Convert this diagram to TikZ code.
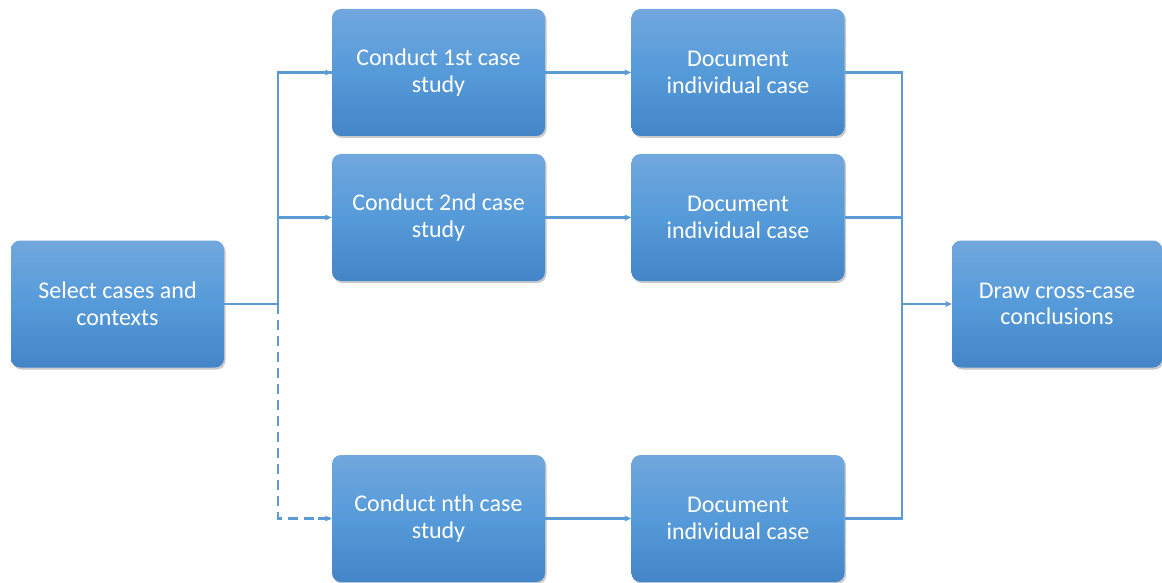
\documentclass[tikz,border=0pt]{standalone}
\usepackage{fontspec}
\setmainfont{Carlito}
\usetikzlibrary{arrows.meta,shadows}
\definecolor{boxtop}{HTML}{71A7DD}
\definecolor{boxmid}{HTML}{559AD9}
\definecolor{boxbot}{HTML}{4485C8}
\definecolor{linkblue}{HTML}{5B9BD5}
\tikzset{
  stage/.style={rounded corners=9pt, minimum width=213pt, minimum height=127pt,
    top color=boxtop, bottom color=boxbot, middle color=boxmid,
    text=white, align=center, font=\fontsize{24}{26.5}\selectfont, inner sep=0pt,
    drop shadow={shadow xshift=1.5pt, shadow yshift=-2pt, opacity=0.35, fill=black!60}},
  link/.style={draw=linkblue, line width=2.6pt},
  tip/.style={-{Stealth[length=7pt,width=6pt]}},
}
\begin{document}
\begin{tikzpicture}[x=1pt,y=-1pt]
\useasboundingbox (0,0) rectangle (1162,583);
% stages
\node[stage] (sel) at (117.5,304) {Select cases and\\contexts};
\node[stage] (c1) at (438.5,72.5) {Conduct 1st case\\study};
\node[stage] (c2) at (438.5,217.5) {Conduct 2nd case\\study};
\node[stage] (cn) at (438.5,518.5) {Conduct nth case\\study};
\node[stage] (d1) at (738,72.5) {Document\\individual case};
\node[stage] (d2) at (738,217.5) {Document\\individual case};
\node[stage] (dn) at (738,518.5) {Document\\individual case};
\node[stage, minimum width=210pt] (dr) at (1057,304) {Draw cross-case\\conclusions};
% branch point and merge point
\coordinate (split) at (278,304);
\coordinate (merge) at (902,304);
% fan-out
\draw[link] (sel.east) -- (split);
\draw[link] (split) |- (c1.west);
\draw[link, tip] (278,72.5) -- (c1.west);
\draw[link, tip] (278,217.5) -- (c2.west);
\draw[link, dashed, dash pattern=on 10pt off 6pt] (split) |- (cn.west);
\draw[link, tip] (318,518.5) -- (cn.west);
% case documentation
\draw[link, tip] (c1) -- (d1);
\draw[link, tip] (c2) -- (d2);
\draw[link, tip] (cn) -- (dn);
% fan-in
\draw[link] (d1.east) -| (merge);
\draw[link] (d2.east) -| (merge);
\draw[link] (dn.east) -| (merge);
\draw[link, tip] (merge) -- (dr.west);
\end{tikzpicture}
\end{document}
